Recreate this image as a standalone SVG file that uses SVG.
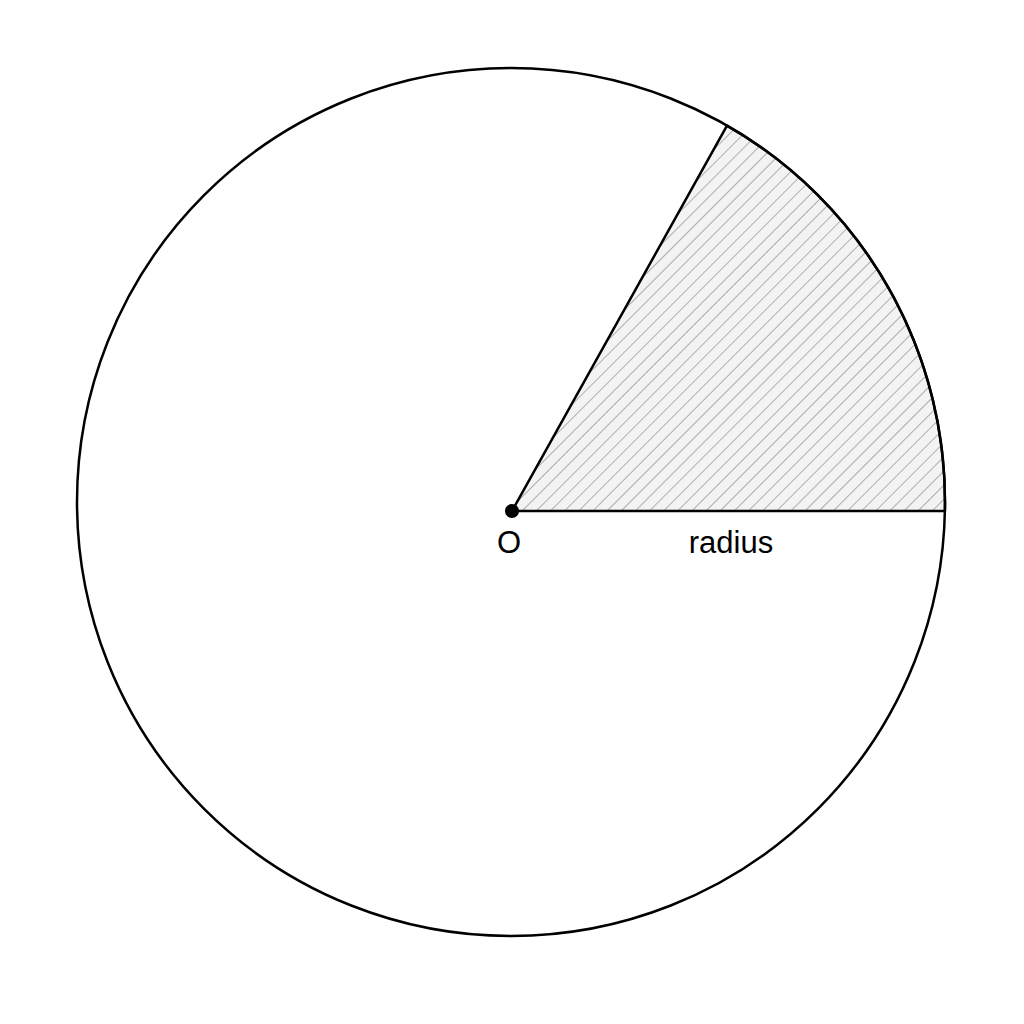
<svg xmlns="http://www.w3.org/2000/svg" width="1024" height="1024" viewBox="0 0 1024 1024">
<defs>
<pattern id="hatch" patternUnits="userSpaceOnUse" width="10" height="10" patternTransform="rotate(45)">
<rect width="10" height="10" fill="#f3f3f3"/>
<line x1="0" y1="0" x2="0" y2="10" stroke="#808080" stroke-width="1.2"/>
</pattern>
</defs>
<style>
.outline{fill:none;stroke:#000;stroke-width:2.5}
.lbl{font-family:"Liberation Sans",Arial,sans-serif;font-size:31px;fill:#000;text-anchor:middle}
</style>
<rect width="1024" height="1024" fill="#fff"/>
<g id="sector">
<path d="M512,511 L944.9,511 A434,434 0 0 0 727,125.6 Z" fill="url(#hatch)" stroke="#000" stroke-width="2.5" stroke-linejoin="round"/>
</g>
<g id="circle">
<circle cx="511" cy="502" r="434" class="outline"/>
</g>
<g id="center">
<circle cx="512" cy="511" r="7" fill="#000"/>
<text x="509" y="553" class="lbl">O</text>
</g>
<g id="radius-label">
<text x="731" y="553" class="lbl">radius</text>
</g>
</svg>
